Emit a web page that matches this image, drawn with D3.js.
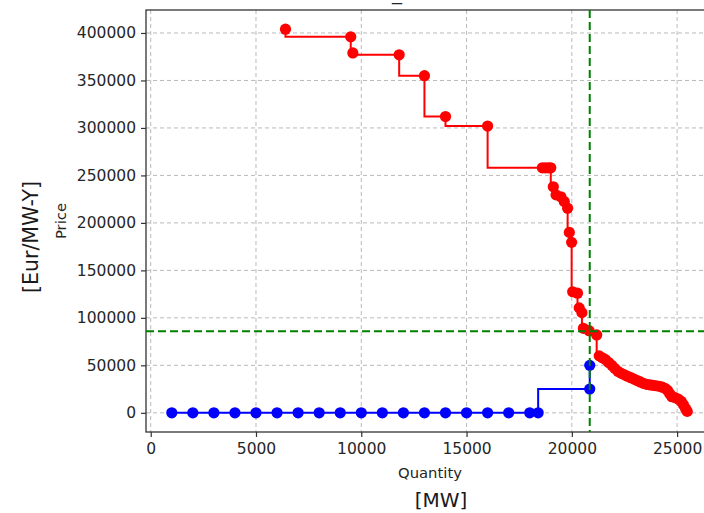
<!DOCTYPE html>
<html>
<head>
<meta charset="utf-8">
<script src="https://cdn.jsdelivr.net/npm/d3@7"></script>
<style>
  html, body { margin: 0; padding: 0; background: #ffffff; overflow: hidden; }
  svg { display: block; font-family: "DejaVu Sans", sans-serif; }
</style>
</head>
<body>
<svg id="chart" width="704" height="513"></svg>
<script>
// Supply offers (red) – quantity [MW] and price [Eur/MW-Y]
const supplyQty = [6400, 9500, 9600, 11800, 13000, 14000, 16000,
  18600, 18750, 18900, 19000, 19120, 19250, 19480, 19640, 19800, 19880, 19990,
  20040, 20270, 20350, 20480, 20550, 20820, 21180,
  21300, 21450, 21600, 21750, 21900, 22050, 22200, 22350, 22500, 22650, 22800,
  22950, 23100, 23250, 23400, 23550, 23700, 23850, 24000, 24150, 24300, 24450,
  24550, 24650, 24750, 24900, 25050, 25200, 25300, 25400, 25480];
const supplyPrice = [404000, 396000, 379000, 377000, 355000, 312000, 302000,
  258000, 258000, 258000, 258000, 238000, 229500, 227500, 222500, 215500, 190000, 179500,
  127500, 126000, 110500, 105500, 89000, 86500, 82000,
  60000, 58000, 56000, 53000, 50000, 46500, 43500, 41500, 40000, 38500, 37000,
  35500, 34000, 32500, 31000, 30000, 29500, 29000, 28500, 28000, 27000, 25500,
  23500, 20000, 17000, 16000, 14500, 12000, 8500, 4500, 1500];

// Demand bids (blue)
const demandQty = [1000, 2000, 3000, 4000, 5000, 6000, 7000, 8000, 9000, 10000,
  11000, 12000, 13000, 14000, 15000, 16000, 17000, 18000, 18400, 20850, 20850];
const demandPrice = [0, 0, 0, 0, 0, 0, 0, 0, 0, 0,
  0, 0, 0, 0, 0, 0, 0, 0, 0, 25000, 50000];

// Market clearing point
const clearingQty = 20850;
const clearingPrice = 86000;

// Axis ticks
const xTicks = [0, 5000, 10000, 15000, 20000, 25000];
const yTicks = [0, 50000, 100000, 150000, 200000, 250000, 300000, 350000, 400000];

const supply = supplyQty.map((q, i) => ({ q, p: supplyPrice[i] }));
const demand = demandQty.map((q, i) => ({ q, p: demandPrice[i] }));

const svg = d3.select("#chart");
const plot = { left: 146, right: 713, top: 10, bottom: 432 };

// Data limits with 5% padding on each side
function padded(values) {
  const [lo, hi] = d3.extent(values);
  const m = (hi - lo) * 0.05;
  return [lo - m, hi + m];
}
const x = d3.scaleLinear()
  .domain(padded(supplyQty.concat(demandQty)))
  .range([plot.left, plot.right]);
const y = d3.scaleLinear()
  .domain(padded(supplyPrice.concat(demandPrice)))
  .range([plot.bottom, plot.top]);

svg.append("rect").attr("width", 704).attr("height", 513).attr("fill", "#ffffff");

svg.append("defs").append("clipPath").attr("id", "plotClip")
  .append("rect")
  .attr("x", plot.left).attr("y", plot.top)
  .attr("width", plot.right - plot.left).attr("height", plot.bottom - plot.top);

// Grid
const grid = svg.append("g").attr("stroke", "#b9b9b9").attr("stroke-width", 1)
  .attr("stroke-dasharray", "4,3");
grid.selectAll(".gx").data(xTicks).join("line")
  .attr("x1", d => x(d)).attr("x2", d => x(d))
  .attr("y1", plot.top).attr("y2", plot.bottom);
grid.selectAll(".gy").data(yTicks).join("line")
  .attr("x1", plot.left).attr("x2", plot.right)
  .attr("y1", d => y(d)).attr("y2", d => y(d));

// Axes
const xAxis = svg.append("g")
  .attr("transform", `translate(0,${plot.bottom})`)
  .call(d3.axisBottom(x).tickValues(xTicks).tickFormat(d3.format("d"))
    .tickSize(5).tickPadding(6));
const yAxis = svg.append("g")
  .attr("transform", `translate(${plot.left},0)`)
  .call(d3.axisLeft(y).tickValues(yTicks).tickFormat(d3.format("d"))
    .tickSize(5).tickPadding(5));
[xAxis, yAxis].forEach(a => {
  a.select(".domain").remove();
  a.selectAll(".tick line").attr("stroke", "#333").attr("stroke-width", 1.2);
  a.selectAll(".tick text").attr("fill", "#262626")
    .attr("font-size", "15.5px").attr("font-family", "DejaVu Sans");
});

// Frame
svg.append("rect")
  .attr("x", plot.left).attr("y", plot.top)
  .attr("width", plot.right - plot.left).attr("height", plot.bottom - plot.top)
  .attr("fill", "none").attr("stroke", "#333").attr("stroke-width", 1.3);

const marks = svg.append("g").attr("clip-path", "url(#plotClip)");
const stepLine = d3.line().x(d => x(d.q)).y(d => y(d.p)).curve(d3.curveStepBefore);

function series(data, color) {
  marks.append("path").datum(data)
    .attr("d", stepLine)
    .attr("fill", "none").attr("stroke", color).attr("stroke-width", 2);
  marks.append("g").selectAll("circle").data(data).join("circle")
    .attr("cx", d => x(d.q)).attr("cy", d => y(d.p))
    .attr("r", 5.6).attr("fill", color);
}
series(supply, "#ff0000");
series(demand, "#0000ff");

// Clearing price / quantity guides
const guides = marks.append("g").attr("stroke", "#008000").attr("stroke-width", 2)
  .attr("stroke-dasharray", "8,4");
guides.append("line")
  .attr("x1", plot.left).attr("x2", plot.right)
  .attr("y1", y(clearingPrice)).attr("y2", y(clearingPrice));
guides.append("line")
  .attr("x1", x(clearingQty)).attr("x2", x(clearingQty))
  .attr("y1", plot.top).attr("y2", plot.bottom);

// Labels
svg.append("text").attr("x", 397).attr("y", 0).attr("text-anchor", "middle")
  .attr("font-size", "20px").attr("fill", "#222").text("_");

svg.append("text").attr("x", 430).attr("y", 478).attr("text-anchor", "middle")
  .attr("font-size", "14.8px").attr("fill", "#262626").text("Quantity");
svg.append("text").attr("x", 441).attr("y", 507).attr("text-anchor", "middle")
  .attr("font-size", "20px").attr("fill", "#1a1a1a").text("[MW]");

svg.append("text").attr("transform", "translate(66,221) rotate(-90)")
  .attr("text-anchor", "middle")
  .attr("font-size", "14.8px").attr("fill", "#262626").text("Price");
svg.append("text").attr("transform", "translate(38,237) rotate(-90)")
  .attr("text-anchor", "middle")
  .attr("font-size", "20.5px").attr("fill", "#1a1a1a").text("[Eur/MW-Y]");
</script>
</body>
</html>
